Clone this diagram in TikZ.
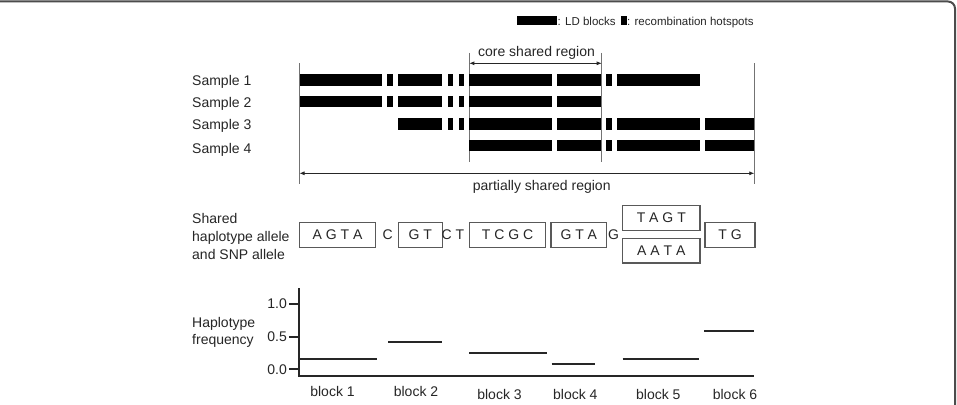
\documentclass[tikz,border=0pt]{standalone}
\usepackage{fontspec}
\setmainfont{Liberation Sans}
\usetikzlibrary{arrows.meta}
\begin{document}
\begin{tikzpicture}[x=1pt,y=-1pt,
  txt/.style={font=\fontsize{14}{16}\selectfont, text=black!85, inner sep=0pt},
  smalltxt/.style={font=\fontsize{11.5}{13}\selectfont, text=black!85, inner sep=0pt},
  ldbar/.style={fill=black},
  regionline/.style={draw=black!55, line width=1.3pt},
  dimarrow/.style={draw=black!85, line width=0.8pt, {Latex[length=5pt,width=4pt]}-{Latex[length=5pt,width=4pt]}},
  allelebox/.style={draw=black!65, line width=1.1pt, font=\fontsize{14}{16}\selectfont, text=black!85, inner sep=0pt, minimum height=25pt},
  axisline/.style={draw=black!85, line width=1.8pt},
  freqline/.style={draw=black!85, line width=1.4pt},
  frameline/.style={draw=black!70, line width=2pt, rounded corners=7pt}
]
\useasboundingbox (0,0) rectangle (957,404);
\fill[white] (0,0) rectangle (957,404);
% frame
\draw[frameline] (-10,1.5) -- (955,1.5) -- (955,420);

% legend
\fill[ldbar] (517,16.3) rectangle (556.7,25.3);
\node[smalltxt, anchor=base west] (lgld) at (557.5,26) {: LD blocks};
\fill[ldbar] (621,16.3) rectangle (626.7,25.3);
\node[smalltxt, anchor=base west] (lghs) at (627,26) {: recombination hotspots};

% sample labels
\node[txt, anchor=base west] (s1) at (192,85.3) {Sample 1};
\node[txt, anchor=base west] (s2) at (192,107) {Sample 2};
\node[txt, anchor=base west] (s3) at (192,129.3) {Sample 3};
\node[txt, anchor=base west] (s4) at (192,153.5) {Sample 4};

% region lines
\coordinate (pl1) at (299.5,63); \coordinate (pl2) at (299.5,184);
\coordinate (cl1) at (469.3,53); \coordinate (cl2) at (469.3,162);
\coordinate (cr1) at (601.7,53); \coordinate (cr2) at (601.7,162);
\coordinate (pr1) at (754.3,63); \coordinate (pr2) at (754.3,184);
\draw[regionline] (pl1) -- (pl2);
\draw[regionline] (cl1) -- (cl2);
\draw[regionline] (cr1) -- (cr2);
\draw[regionline] (pr1) -- (pr2);

% LD blocks
\def\hh{5.7}
% Sample 1
\foreach \a/\b in {299.5/382.3, 387.3/393.3, 398/442.3, 447.7/453.3, 458.7/464.3, 469.3/552.3, 557.3/600.7, 606/612.3, 617.3/700}
  \fill[ldbar] (\a,80-\hh) rectangle (\b,80+\hh);
% Sample 2
\foreach \a/\b in {299.5/382.3, 387.3/393.3, 398/442.3, 447.7/453.3, 458.7/464.3, 469.3/552.3, 557.3/600.7}
  \fill[ldbar] (\a,101.7-\hh) rectangle (\b,101.7+\hh);
% Sample 3
\foreach \a/\b in {398/442.3, 447.7/453.3, 458.7/464.3, 469.3/552.3, 557.3/600.7, 606/612.3, 617.3/700, 705/754.3}
  \fill[ldbar] (\a,124-\hh) rectangle (\b,124+\hh);
% Sample 4
\foreach \a/\b in {469.3/552.3, 557.3/600.7, 606/612.3, 617.3/700, 705/754.3}
  \fill[ldbar] (\a,145.7-\hh) rectangle (\b,145.7+\hh);

% region arrows
\coordinate (ca) at (469.3,63.3); \coordinate (cb) at (601.7,63.3);
\draw[dimarrow] (ca) -- (cb);
\node[txt, anchor=base] (core) at (536.5,56.5) {core shared region};
\coordinate (pa) at (299.5,173.3); \coordinate (pb) at (754.3,173.3);
\draw[dimarrow] (pa) -- (pb);
\node[txt, anchor=base] (partial) at (541.7,190.5) {partially shared region};

% alleles
\node[txt, anchor=base west] (al1) at (192,223) {Shared};
\node[txt, anchor=base west] (al2) at (192,241) {haplotype allele};
\node[txt, anchor=base west] (al3) at (192,259) {and SNP allele};

\node[allelebox, minimum width=76.4pt] (b1) at (337.5,234.8) {A G T A};
\node[txt] (snp1) at (387.7,234.8) {C};
\node[allelebox, minimum width=44.3pt] (b2) at (420.2,234.8) {G T};
\node[txt] (snp2) at (453,234.8) {C T};
\node[allelebox, minimum width=76.4pt] (b3) at (507.5,234.8) {T C G C};
\node[allelebox, minimum width=55.7pt] (b4) at (578.8,234.8) {G T A};
\node[txt] (snp3) at (613.5,234.8) {G};
\node[allelebox, minimum width=77.3pt, minimum height=24.3pt] (b5a) at (661.3,217.9) {T A G T};
\node[allelebox, minimum width=77.3pt, minimum height=24.3pt] (b5b) at (661.3,250.8) {A A T A};
\node[allelebox, minimum width=50pt] (b6) at (730,234.8) {T G};

% frequency plot
\node[txt, anchor=base west] (hf1) at (192,327.3) {Haplotype};
\node[txt, anchor=base west] (hf2) at (192,344.5) {frequency};

\coordinate (ytop) at (299.3,288.3);
\coordinate (orig) at (299.3,375.7);
\coordinate (xend) at (754.3,375.7);
\draw[axisline] (ytop) -- (orig) -- (xend);

\foreach \v/\y/\n in {1.0/304/t1, 0.5/336.7/t2, 0.0/369.3/t3}{
  \coordinate (\n a) at (289.3,\y);
  \coordinate (\n b) at (299.3,\y);
  \draw[axisline] (\n a) -- (\n b);
  \node[txt, anchor=east] (\n) at (287,\y) {\v};
}

\foreach \a/\b/\y/\n in {299.3/376.7/359/f1, 388.3/442.3/342/f2, 469.3/546.7/353/f3, 551.7/595/364/f4, 622.7/699.3/359/f5, 704.3/754.3/331/f6}{
  \coordinate (\n a) at (\a,\y);
  \coordinate (\n b) at (\b,\y);
  \draw[freqline] (\n a) -- (\n b);
}

\node[txt, anchor=base] (bl1) at (332.5,396.5) {block 1};
\node[txt, anchor=base] (bl2) at (416,396.5) {block 2};
\node[txt, anchor=base] (bl3) at (499.5,399) {block 3};
\node[txt, anchor=base] (bl4) at (575.3,399) {block 4};
\node[txt, anchor=base] (bl5) at (658.3,399) {block 5};
\node[txt, anchor=base] (bl6) at (735,399) {block 6};
\end{tikzpicture}
\end{document}
